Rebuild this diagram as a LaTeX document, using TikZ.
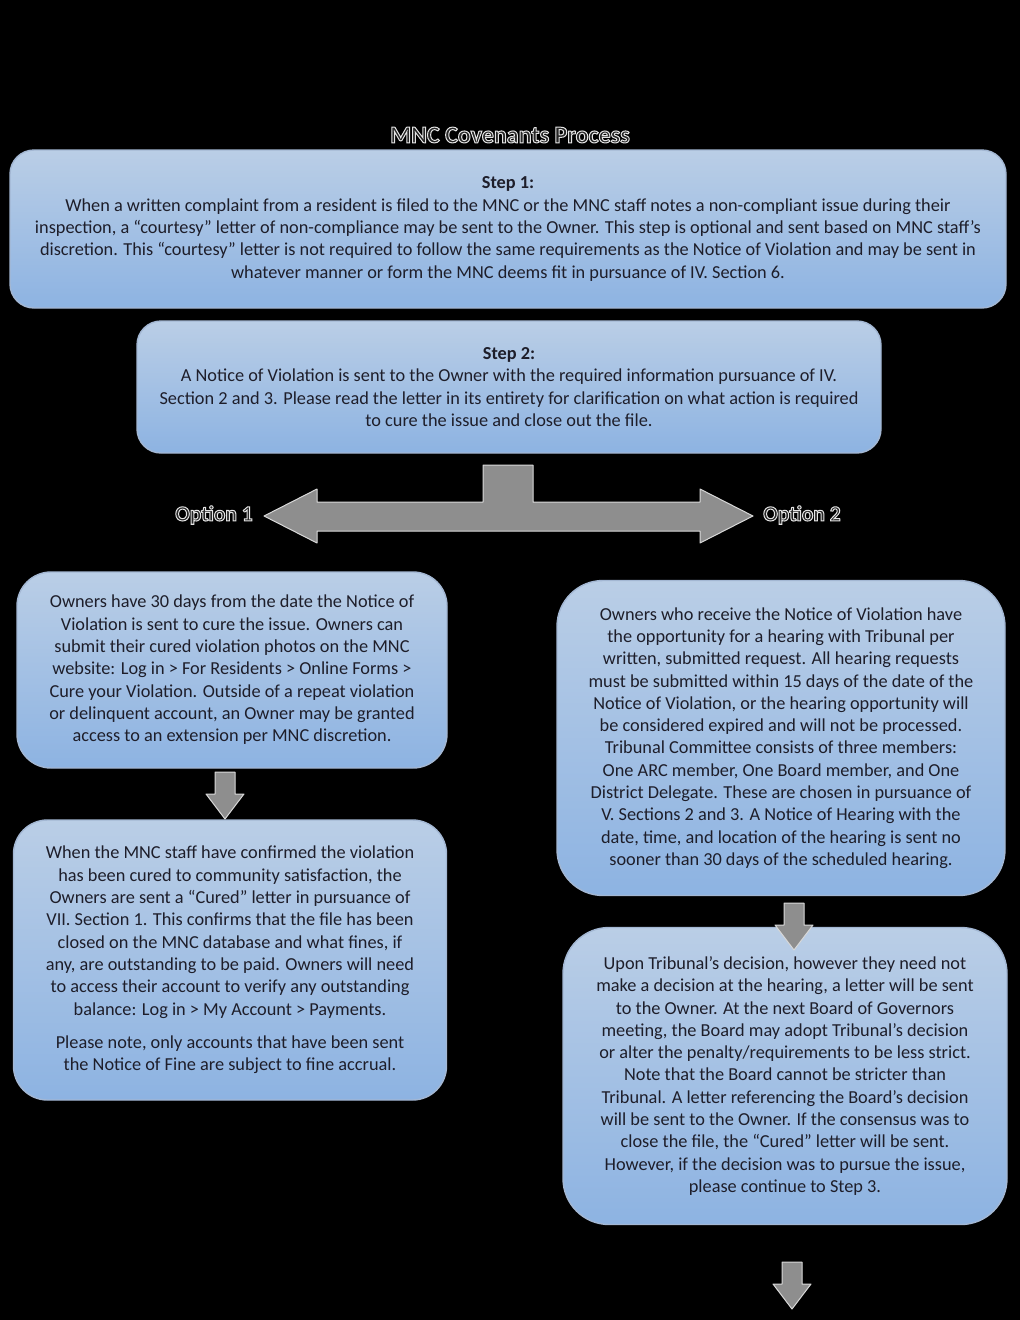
\documentclass[tikz,border=0pt]{standalone}
\usepackage{fontspec}
\setmainfont{Carlito}
\usetikzlibrary{positioning}
\definecolor{fundo}{HTML}{000000}
\definecolor{azulclaro}{HTML}{BACEE6}
\definecolor{azulescuro}{HTML}{8DB3E2}
\definecolor{borda}{HTML}{A3B7D3}
\definecolor{tinta}{HTML}{1E1E2A}
\definecolor{cinza}{HTML}{8E8E8E}
\definecolor{brilho}{HTML}{D8D8D8}
% texto com contorno claro
\newcommand\realce[1]{\special{pdf:literal direct 2 Tr 1.0 w 0.9 0.9 0.9 RG}#1\special{pdf:literal direct 0 Tr}}

\begin{document}
\begin{tikzpicture}[x=1pt, y=-1pt,
  font=\fontsize{18.3}{22.3}\selectfont,
  caixa/.style={draw=borda, line width=1.4pt, top color=azulclaro, bottom color=azulescuro, align=center, text=tinta, inner sep=0pt},
  rotulo/.style={font=\fontsize{21.5}{24}\selectfont\bfseries, text=black!85},
  bloco/.style={fill=cinza, draw=brilho, line width=1pt, line join=round},
  setabaixo/.pic={\draw[bloco] (-10,0) -- (10,0) -- (10,22) -- (19,22) -- (0,47) -- (-19,22) -- (-10,22) -- cycle;}]
\fill[fundo] (0,0) rectangle (1020,1320);
\node[rotulo, font=\fontsize{24}{26}\selectfont\bfseries] (titulo) at (510,135) {\realce{MNC Covenants Process}};
\node[caixa, rounded corners=24pt, minimum width=996pt, minimum height=158pt] (passo1) at (508,229) {\textbf{Step 1:}\\
When a written complaint from a resident is filed to the MNC or the MNC staff notes a non-compliant issue during their\\
inspection, a “courtesy” letter of non-compliance may be sent to the Owner. This step is optional and sent based on MNC staff’s\\
discretion. This “courtesy” letter is not required to follow the same requirements as the Notice of Violation and may be sent in\\
whatever manner or form the MNC deems fit in pursuance of IV. Section 6.};
\node[caixa, rounded corners=24pt, minimum width=744pt, minimum height=132pt] (passo2) at (509,387) {\textbf{Step 2:}\\
A Notice of Violation is sent to the Owner with the required information pursuance of IV.\\
Section 2 and 3. Please read the letter in its entirety for clarification on what action is required\\
to cure the issue and close out the file.};
% seta dupla para as duas opcoes
\draw[bloco] (264,516) -- (317,489) -- (317,502) -- (483,502) -- (483,465) -- (533,465) -- (533,502)
  -- (700,502) -- (700,489) -- (753,516) -- (700,543) -- (700,531) -- (317,531) -- (317,543) -- cycle;
\node[rotulo] (opcao1) at (214,515) {\realce{Option 1}};
\node[rotulo] (opcao2) at (802,515) {\realce{Option 2}};
% opcao 1
\node[caixa, rounded corners=34pt, minimum width=430pt, minimum height=196pt] (prazo) at (232,670) {Owners have 30 days from the date the Notice of\\
Violation is sent to cure the issue. Owners can\\
submit their cured violation photos on the MNC\\
website: Log in > For Residents > Online Forms >\\
Cure your Violation. Outside of a repeat violation\\
or delinquent account, an Owner may be granted\\
access to an extension per MNC discretion.};
\node[caixa, rounded corners=34pt, minimum width=433pt, minimum height=280pt] (curado) at (230,960) {When the MNC staff have confirmed the violation\\
has been cured to community satisfaction, the\\
Owners are sent a “Cured” letter in pursuance of\\
VII. Section 1. This confirms that the file has been\\
closed on the MNC database and what fines, if\\
any, are outstanding to be paid. Owners will need\\
to access their account to verify any outstanding\\
balance: Log in > My Account > Payments.\\[11pt]
Please note, only accounts that have been sent\\
the Notice of Fine are subject to fine accrual.};
\pic at (225,772) {setabaixo};
% opcao 2
\node[caixa, rounded corners=46pt, minimum width=448pt, minimum height=315pt] (audiencia) at (781,738) {Owners who receive the Notice of Violation have\\
the opportunity for a hearing with Tribunal per\\
written, submitted request. All hearing requests\\
must be submitted within 15 days of the date of the\\
Notice of Violation, or the hearing opportunity will\\
be considered expired and will not be processed.\\
Tribunal Committee consists of three members:\\
One ARC member, One Board member, and One\\
District Delegate. These are chosen in pursuance of\\
V. Sections 2 and 3. A Notice of Hearing with the\\
date, time, and location of the hearing is sent no\\
sooner than 30 days of the scheduled hearing.};
\node[caixa, rounded corners=46pt, minimum width=444pt, minimum height=297pt] (decisao) at (785,1076) {Upon Tribunal’s decision, however they need not\\
make a decision at the hearing, a letter will be sent\\
to the Owner. At the next Board of Governors\\
meeting, the Board may adopt Tribunal’s decision\\
or alter the penalty/requirements to be less strict.\\
Note that the Board cannot be stricter than\\
Tribunal. A letter referencing the Board’s decision\\
will be sent to the Owner. If the consensus was to\\
close the file, the “Cured” letter will be sent.\\
However, if the decision was to pursue the issue,\\
please continue to Step 3.};
\pic at (794,903) {setabaixo};
\pic at (792,1262) {setabaixo};
\end{tikzpicture}
\end{document}
